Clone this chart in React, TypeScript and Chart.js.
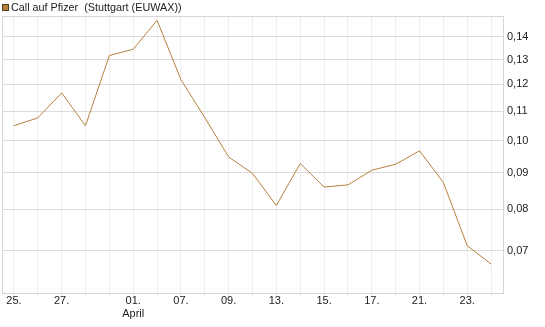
import { useEffect, useRef } from "react";
import { Chart, registerables } from "chart.js";

Chart.register(...registerables);

const dates = ["25.", "26.", "27.", "30.", "31.", "01.", "02.", "07.", "08.", "09.", "10.", "13.", "14.", "15.", "16.", "17.", "20.", "21.", "22.", "23.", "24."];
const tickLabels = ["25.", "", "27.", "", "", "01.", "", "07.", "", "09.", "", "13.", "", "15.", "", "17.", "", "21.", "", "23.", ""];
const monthLabels = ["", "", "", "", "", "April", "", "", "", "", "", "", "", "", "", "", "", "", "", "", ""];
const values = [0.1049, 0.1076, 0.1167, 0.1049, 0.1317, 0.1344, 0.1476, 0.1218, 0.1077, 0.0948, 0.0899, 0.081, 0.0928, 0.086, 0.0866, 0.0908, 0.0926, 0.0967, 0.0873, 0.0711, 0.067];
const yTicks = [0.07, 0.08, 0.09, 0.1, 0.11, 0.12, 0.13, 0.14];
const seriesName = "Call auf Pfizer  (Stuttgart (EUWAX))";
const lineColor = "#b5803c";
const FONT = "'Liberation Sans', Arial, sans-serif";

const frame = {
  id: "frame",
  beforeDatasetsDraw(chart: any) {
    const { ctx, chartArea } = chart;
    ctx.save();
    ctx.strokeStyle = "#d6d6d6";
    ctx.lineWidth = 1;
    ctx.strokeRect(Math.round(chartArea.left) + 0.5, Math.round(chartArea.top) + 0.5, Math.round(chartArea.right - chartArea.left), Math.round(chartArea.bottom - chartArea.top));
    ctx.restore();
  },
  afterDraw(chart: any) {
    const { ctx } = chart;
    const ds = chart.data.datasets[0];
    ctx.save();
    ctx.fillStyle = ds.borderColor;
    ctx.fillRect(2.5, 4.5, 6, 6);
    ctx.strokeStyle = "#5a4020";
    ctx.lineWidth = 1;
    ctx.strokeRect(2.5, 4.5, 6, 6);
    ctx.fillStyle = "#222";
    ctx.font = "10.8px " + FONT;
    ctx.textBaseline = "alphabetic";
    ctx.textAlign = "left";
    ctx.fillText(ds.label, 11, 11);
    ctx.restore();
  },
};

export default function App() {
  const ref = useRef<HTMLCanvasElement | null>(null);
  useEffect(() => {
    document.body.style.margin = "0";
    const chart = new Chart(ref.current as HTMLCanvasElement, {
      type: "line",
      data: {
        labels: dates,
        datasets: [
          {
            label: seriesName,
            data: values,
            borderColor: lineColor,
            backgroundColor: lineColor,
            borderWidth: 1,
            pointRadius: 0,
            tension: 0,
          },
        ],
      },
      options: {
        animation: false,
        responsive: false,
        layout: { padding: { left: 2, top: 16, right: 0, bottom: 0 } },
        plugins: {
          legend: { display: false },
          tooltip: { enabled: false },
        },
        scales: {
          x: {
            offset: true,
            grid: { color: "#eeeeee", tickLength: 4, offset: false },
            border: { color: "#d6d6d6" },
            afterFit: (s: any) => {
              s.height = 34;
            },
            ticks: {
              autoSkip: false,
              maxRotation: 0,
              padding: -2,
              color: "#222",
              font: { family: FONT, size: 11, lineHeight: "12.5px" },
              callback: (_v: any, i: number) => (monthLabels[i] ? [tickLabels[i], monthLabels[i]] : tickLabels[i]),
            },
          },
          y: {
            type: "logarithmic",
            position: "right",
            min: 0.0614,
            max: 0.1497,
            afterBuildTicks: (s: any) => {
              s.ticks = yTicks.map((v) => ({ value: v }));
            },
            afterFit: (s: any) => {
              s.width = 42;
            },
            grid: { color: "#dcdcdc", drawTicks: false },
            border: { color: "#d6d6d6" },
            ticks: {
              padding: 4,
              color: "#222",
              font: { family: FONT, size: 11 },
              callback: (v: any) => Number(v).toFixed(2).replace(".", ","),
            },
          },
        },
      },
      plugins: [frame],
    } as any);
    return () => chart.destroy();
  }, []);
  return (
    <div style={{ position: "absolute", left: 0, top: 0, width: 545, height: 327 }}>
      <canvas ref={ref} width={545} height={327} style={{ width: 545, height: 327 }} />
    </div>
  );
}
